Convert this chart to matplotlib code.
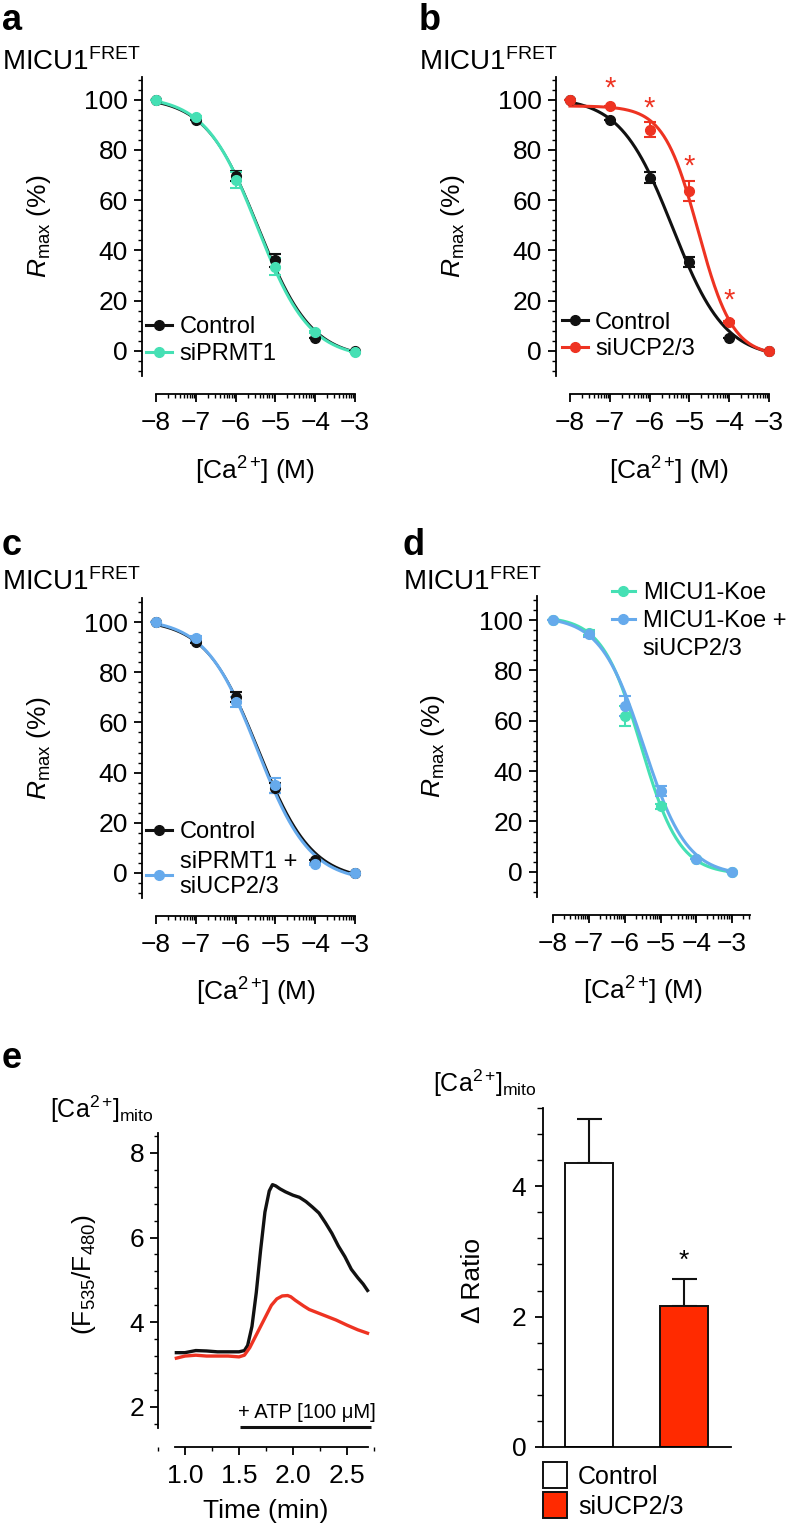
import numpy as np
import matplotlib
matplotlib.use('Agg')
import matplotlib.pyplot as plt
from matplotlib.ticker import MultipleLocator, FixedLocator
from matplotlib.lines import Line2D
from matplotlib.patches import Patch

plt.rcParams['font.family'] = ['Liberation Sans', 'DejaVu Sans']
plt.rcParams['mathtext.fontset'] = 'custom'
plt.rcParams['mathtext.rm'] = 'Liberation Sans'
plt.rcParams['mathtext.it'] = 'Liberation Sans:italic'
plt.rcParams['mathtext.bf'] = 'Liberation Sans:bold'
plt.rcParams['axes.unicode_minus'] = True

# ---------------- data ----------------
log_ca = [-8, -7, -6, -5, -4, -3]

a_control = [100, 92, 69.5, 36, 5, 0]
a_control_err = [0, 0, 2, 2.5, 0, 0]
a_siprmt1 = [100, 93, 68, 33.5, 7.5, -0.5]
a_siprmt1_err = [0, 0.5, 3, 3.5, 0.5, 0]

b_control = [100, 92, 69, 35.5, 5, 0]
b_control_err = [0, 0, 2, 2, 0, 0]
b_siucp = [100, 97.5, 88, 63.5, 11.5, 0]
b_siucp_err = [0, 0, 3, 4, 0.5, 0]
b_star_x = [-7, -6, -5, -4]
b_star_y = [104.5, 96.5, 73.5, 20]

c_control = [100, 92, 70, 34, 5, 0]
c_control_err = [0, 0.5, 2, 2, 0, 0]
c_combo = [100, 93.5, 68, 35, 3.5, 0]
c_combo_err = [0, 1, 2, 3, 0.5, 0]

d_koe = [100, 95, 62, 26, 5, 0]
d_koe_err = [0, 1, 4, 1, 0, 0]
d_koe_ucp = [100, 94.5, 66, 32, 5, 0]
d_koe_ucp_err = [0, 1, 4, 2, 0, 0]

# Hill fit parameters: (top, bottom, logEC50, hill slope)
fit_a_control = (101, -3, -5.42, 0.65)
fit_a_siprmt1 = (101.5, -3, -5.45, 0.66)
fit_b_control = (101, -3, -5.42, 0.66)
fit_b_siucp = (97.5, -2, -4.78, 1.0)
fit_c_control = (101, -3, -5.42, 0.65)
fit_c_combo = (101.5, -3.5, -5.45, 0.66)
fit_d_koe = (101.5, -1, -5.55, 0.8)
fit_d_koe_ucp = (101.5, -1.5, -5.47, 0.72)

e_black_t = [0.92, 1.0, 1.1, 1.2, 1.3, 1.4, 1.5, 1.55, 1.58, 1.62, 1.66, 1.70, 1.74,
             1.78, 1.81, 1.84, 1.88, 1.93, 2.0, 2.06, 2.12, 2.18, 2.24, 2.30, 2.36,
             2.42, 2.48, 2.54, 2.60, 2.65, 2.69]
e_black_v = [3.28, 3.28, 3.33, 3.32, 3.30, 3.30, 3.30, 3.33, 3.45, 3.9, 4.7, 5.7, 6.6,
             7.1, 7.25, 7.22, 7.15, 7.08, 7.0, 6.95, 6.85, 6.72, 6.58, 6.35, 6.1,
             5.8, 5.55, 5.25, 5.05, 4.9, 4.75]
e_red_t = [0.92, 1.0, 1.1, 1.2, 1.3, 1.4, 1.5, 1.55, 1.6, 1.65, 1.7, 1.75, 1.8, 1.85,
           1.9, 1.95, 1.98, 2.02, 2.06, 2.1, 2.15, 2.2, 2.3, 2.4, 2.5, 2.6, 2.69]
e_red_v = [3.15, 3.2, 3.22, 3.2, 3.2, 3.2, 3.18, 3.22, 3.4, 3.65, 3.9, 4.15, 4.4, 4.55,
           4.62, 4.63, 4.6, 4.52, 4.45, 4.38, 4.3, 4.25, 4.15, 4.05, 3.93, 3.82, 3.74]
atp_start, atp_end = 1.51, 2.72

bar_labels = ['Control', 'siUCP2/3']
bar_values = [4.35, 2.16]
bar_errors = [0.68, 0.42]

# ---------------- style ----------------
BLACK = '#111111'
TEAL = '#45e0b4'
BLUE = '#66aaec'
RED = '#ee3322'
BAR_RED = '#ff2a00'
FS = 17      # legend text
TFS = 19     # tick labels
LFS = 19     # axis labels
CA_M = r'$\mathrm{[Ca^{2+}\!]}$ (M)'
CA_MITO = r'$\mathrm{[Ca^{2+}\!]_{mito}}$'

W, H = 788, 1527
fig = plt.figure(figsize=(W / 100, H / 100), dpi=100)


def add_ax(left, top, right, bottom):
    return fig.add_axes([left / W, 1 - bottom / H, (right - left) / W, (bottom - top) / H])


def ftext(x, y, s, **kw):
    fig.text(x / W, 1 - y / H, s, va='baseline', **kw)


def hill(x, p):
    top, bottom, c, h = p
    return bottom + (top - bottom) / (1 + 10 ** ((x - c) * h))


def style_dose_ax(ax, xlim, ylim, xbound, ylab_x, xlab_x, xlab_y):
    ax.set_xlim(*xlim)
    ax.set_ylim(*ylim)
    for s in ['top', 'right']:
        ax.spines[s].set_visible(False)
    ax.spines['bottom'].set_position(('outward', 13))
    ax.spines['bottom'].set_bounds(*xbound)
    for s in ['left', 'bottom']:
        ax.spines[s].set_linewidth(1.3)
    ax.set_xticks(log_ca)
    ax.set_xticklabels([f'\u2212{abs(v)}' for v in log_ca])
    minors = [n + np.log10(k) for n in range(-8, -2) for k in range(2, 10)]
    minors = [m for m in minors if m <= xbound[1] + 1e-6]
    ax.xaxis.set_minor_locator(FixedLocator(minors))
    ax.set_yticks([0, 20, 40, 60, 80, 100])
    ax.yaxis.set_minor_locator(MultipleLocator(4))
    ax.tick_params(which='major', direction='out', length=6, width=1.3, labelsize=TFS)
    ax.tick_params(which='minor', direction='out', length=3, width=1.0)
    ax.tick_params(axis='x', which='major', pad=6)
    ax.tick_params(axis='y', which='major', pad=4)
    ax.set_ylabel(r'$R_{\rm max}$ (%)', fontsize=LFS)
    ax.yaxis.set_label_coords(ylab_x, 0.5)
    ax.set_xlabel(CA_M, fontsize=LFS, va='top')
    ax.xaxis.set_label_coords(xlab_x, xlab_y)


def plot_series(ax, y, err, fit, color, lw=1.8):
    xx = np.linspace(-8, -3, 300)
    ax.plot(xx, hill(xx, fit), color=color, lw=lw, zorder=3, clip_on=False)
    ax.errorbar(log_ca, y, yerr=err, fmt='o', color=color, ms=7, capsize=4,
                elinewidth=1.5, capthick=1.5, zorder=4, clip_on=False)


def leg_handle(color):
    return Line2D([0], [0], color=color, lw=2.2, marker='o', ms=7)


# ---------------- panel a ----------------
ax_a = add_ax(142, 77, 365, 376)
style_dose_ax(ax_a, (-8.35, -2.75), (-10, 109), (-8, -3), -0.40, 0.507, -0.265)
plot_series(ax_a, a_control, a_control_err, fit_a_control, BLACK, lw=1.6)
plot_series(ax_a, a_siprmt1, a_siprmt1_err, fit_a_siprmt1, TEAL, lw=2.2)
ax_a.legend([leg_handle(BLACK), leg_handle(TEAL)], ['Control', 'siPRMT1'],
            loc='upper left', bbox_to_anchor=(0.02, 0.2), frameon=False,
            fontsize=FS, borderpad=0, borderaxespad=0, handlelength=1.1,
            handletextpad=0.3, labelspacing=0.2)

# ---------------- panel b ----------------
ax_b = add_ax(556, 77, 779, 376)
style_dose_ax(ax_b, (-8.35, -2.75), (-10, 109), (-8, -3), -0.40, 0.507, -0.265)
plot_series(ax_b, b_control, b_control_err, fit_b_control, BLACK, lw=2.2)
plot_series(ax_b, b_siucp, b_siucp_err, fit_b_siucp, RED, lw=2.2)
for sx, sy in zip(b_star_x, b_star_y):
    ax_b.text(sx, sy, '*', color=RED, fontsize=21, ha='center', va='center')
ax_b.legend([leg_handle(BLACK), leg_handle(RED)], ['Control', 'siUCP2/3'],
            loc='upper left', bbox_to_anchor=(0.027, 0.215), frameon=False,
            fontsize=FS, borderpad=0, borderaxespad=0, handlelength=1.1,
            handletextpad=0.3, labelspacing=0.2)

# ---------------- panel c ----------------
ax_c = add_ax(142, 598, 365, 898)
style_dose_ax(ax_c, (-8.35, -2.75), (-10, 109.6), (-8, -3), -0.40, 0.51, -0.26)
plot_series(ax_c, c_control, c_control_err, fit_c_control, BLACK, lw=1.6)
plot_series(ax_c, c_combo, c_combo_err, fit_c_combo, BLUE, lw=2.2)
ax_c.legend([leg_handle(BLACK), leg_handle(BLUE)], ['Control', 'siPRMT1 +\nsiUCP2/3'],
            loc='upper left', bbox_to_anchor=(0.02, 0.255), frameon=False,
            fontsize=FS, borderpad=0, borderaxespad=0, handlelength=1.1,
            handletextpad=0.3, labelspacing=0.3)

# ---------------- panel d ----------------
ax_d = add_ax(537, 596, 754, 897)
style_dose_ax(ax_d, (-8.45, -2.39), (-10, 109.6), (-8, -2.5), -0.415, 0.49, -0.26)
plot_series(ax_d, d_koe, d_koe_err, fit_d_koe, TEAL, lw=2.2)
plot_series(ax_d, d_koe_ucp, d_koe_ucp_err, fit_d_koe_ucp, BLUE, lw=2.2)
ax_d.legend([leg_handle(TEAL), leg_handle(BLUE), Line2D([0], [0], ls='none')],
            ['MICU1-Koe', 'MICU1-Koe +', 'siUCP2/3'],
            loc='upper left', bbox_to_anchor=(0.346, 1.045), frameon=False,
            fontsize=FS, borderpad=0, borderaxespad=0, handlelength=0.95,
            handletextpad=0.35, labelspacing=0.25)

# ---------------- panel e (trace) ----------------
ax_e1 = add_ax(158, 1133, 374, 1428)
ax_e1.set_xlim(0.75, 2.75)
ax_e1.set_ylim(1.5, 8.47)
for s in ['top', 'right']:
    ax_e1.spines[s].set_visible(False)
ax_e1.spines['bottom'].set_position(('outward', 14))
ax_e1.spines['bottom'].set_bounds(0.91, 2.69)
for s in ['left', 'bottom']:
    ax_e1.spines[s].set_linewidth(1.3)
ax_e1.plot(e_black_t, e_black_v, color=BLACK, lw=2.4)
ax_e1.plot(e_red_t, e_red_v, color=RED, lw=2.4)
ax_e1.plot([atp_start, atp_end], [1.53, 1.53], color=BLACK, lw=2.2, clip_on=False,
           solid_capstyle='butt')
ax_e1.text((atp_start + atp_end) / 2 + 0.01, 1.86, '+ ATP [100 \u03bcM]', fontsize=14.5,
           ha='center', va='center')
ax_e1.set_xticks([1.0, 1.5, 2.0, 2.5])
ax_e1.set_xticklabels(['1.0', '1.5', '2.0', '2.5'])
ax_e1.xaxis.set_minor_locator(MultipleLocator(0.25))
ax_e1.set_yticks([2, 4, 6, 8])
ax_e1.yaxis.set_minor_locator(MultipleLocator(0.4))
ax_e1.tick_params(which='major', direction='out', length=6, width=1.3, labelsize=TFS)
ax_e1.tick_params(which='minor', direction='out', length=3, width=1.0)
ax_e1.tick_params(axis='x', which='major', pad=6)
ax_e1.tick_params(axis='y', which='major', pad=4)
ax_e1.set_xlabel('Time (min)', fontsize=LFS, va='top')
ax_e1.xaxis.set_label_coords(0.5, -0.24)
ax_e1.set_ylabel(r'(F$_{535}$/F$_{480}$)', fontsize=LFS)
ax_e1.yaxis.set_label_coords(-0.28, 0.52)

# ---------------- panel e (bars) ----------------
ax_e2 = add_ax(543, 1108, 731, 1447)
ax_e2.set_xlim(-0.48, 1.49)
ax_e2.set_ylim(0, 5.2)
for s in ['top', 'right']:
    ax_e2.spines[s].set_visible(False)
for s in ['left', 'bottom']:
    ax_e2.spines[s].set_linewidth(1.3)
xpos = np.arange(len(bar_values))
ax_e2.bar(xpos, bar_values, width=0.5, color=['white', BAR_RED], edgecolor=BLACK,
          linewidth=1.4, zorder=2)
ax_e2.errorbar(xpos, bar_values, yerr=[[0] * len(bar_errors), bar_errors], fmt='none',
               ecolor=BLACK, elinewidth=1.5, capsize=9, capthick=1.5, zorder=1)
ax_e2.text(1, 2.86, '*', fontsize=19, ha='center', va='center')
ax_e2.set_xticks([])
ax_e2.set_yticks([0, 2, 4])
ax_e2.yaxis.set_minor_locator(MultipleLocator(0.4))
ax_e2.tick_params(which='major', direction='out', length=6, width=1.3, labelsize=TFS, pad=6)
ax_e2.tick_params(which='minor', direction='out', length=4, width=1.0)
ax_e2.set_ylabel('\u0394 Ratio', fontsize=LFS)
ax_e2.yaxis.set_label_coords(-0.31, 0.49)
ax_e2.legend([Patch(facecolor='white', edgecolor=BLACK, lw=1.4),
              Patch(facecolor=BAR_RED, edgecolor=BLACK, lw=1.4)], bar_labels,
             loc='upper left', bbox_to_anchor=(0.0, -0.045), frameon=False,
             fontsize=18, borderpad=0, borderaxespad=0, handlelength=0.95,
             handleheight=1.2, handletextpad=0.45, labelspacing=0.15)

# ---------------- panel letters & titles ----------------
for (x, y, s) in [(2, 30, 'a'), (419, 30, 'b'), (2, 555, 'c'), (403, 555, 'd'), (2, 1068, 'e')]:
    ftext(x, y, s, fontsize=26, fontweight='bold')
for (x, y) in [(2, 70), (419, 70), (2, 590), (403, 590)]:
    ftext(x, y, r'MICU1$^{\rm FRET}$', fontsize=20)
ftext(50, 1118, CA_MITO, fontsize=18)
ftext(433, 1092, CA_MITO, fontsize=18)

fig.savefig('out.png', dpi=100)
